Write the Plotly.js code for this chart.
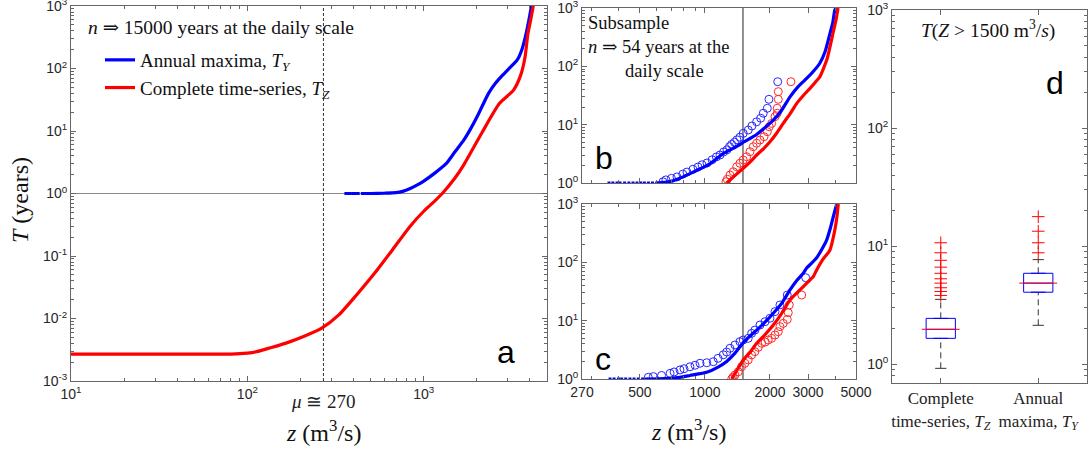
<!DOCTYPE html>
<html>
<head>
<meta charset="utf-8">
<script src="https://cdn.plot.ly/plotly-3.0.1.min.js"></script>
<style>html,body{margin:0;padding:0;background:#fff;}#chart{width:1089px;height:450px;}</style>
</head>
<body>
<div id="chart"></div>
<script>
// ---------- DATA ----------
// Panel a: n => 15000 years
const aBlueDotsZ = [362, 372, 384, 398, 410, 425];
const aBlueZ = [440, 500, 600, 695, 760, 838, 920, 1000, 1150, 1340, 1500, 1690, 1850, 2030, 2330, 2550, 2810, 3100, 3390, 3600, 3810, 3950, 4080];
const aBlueT = [1.0, 1.0, 1.01, 1.03, 1.08, 1.2, 1.37, 1.58, 2.1, 3.0, 4.6, 7.2, 11, 18, 40, 58, 79, 105, 137, 200, 366, 600, 1000];
const aRedZ = [10, 20, 40, 60, 81, 100, 113, 135, 164, 210, 264, 330, 416, 526, 664, 838, 1000, 1150, 1274, 1500, 1690, 2130, 2690, 3230, 3550, 3750, 3900, 4050, 4180];
const aRedT = [0.0027, 0.0027, 0.0027, 0.0027, 0.0027, 0.0028, 0.00295, 0.0034, 0.0040, 0.0052, 0.0070, 0.0114, 0.0238, 0.0528, 0.125, 0.30, 0.52, 0.75, 1.0, 1.75, 2.9, 9.2, 27.7, 45, 79, 150, 366, 620, 1000];
const MU = 270;

// Panel b: subsample n => 54 years
const bBlueDotsZ = [360, 375, 392, 405, 425, 445, 465, 485, 505, 525, 548, 572, 598];
const bBlueZ = [600, 680, 760, 853, 950, 1050, 1216, 1380, 1521, 1735, 1900, 2072, 2250, 2475, 2700, 2956, 3200, 3400, 3600, 3790, 3900, 3990, 4050];
const bBlueT = [1.0, 1.05, 1.2, 1.45, 1.75, 2.1, 3.2, 4.1, 5.1, 6.8, 9, 12, 17, 30, 45, 62, 85, 113, 180, 368, 550, 925, 1000];
const bRedZ = [1261, 1380, 1504, 1620, 1735, 1870, 2000, 2150, 2303, 2480, 2660, 2860, 3063, 3250, 3400, 3670, 3920, 4050, 4130];
const bRedT = [1.0, 1.35, 1.79, 2.3, 3.02, 3.9, 5.1, 7.2, 10.5, 15.5, 23.2, 32, 42, 54, 66, 132, 380, 650, 1000];
const bBlueObsZ = [2172, 1978, 1944, 1862, 1811, 1735, 1650, 1587, 1504, 1452, 1407, 1370, 1330, 1300, 1265, 1220, 1174, 1130, 1080, 1022, 970, 929, 880, 826, 790, 743, 700, 660, 640];
const bBlueObsT = [54.5, 27.2, 19.1, 15.7, 12.9, 11.2, 9.5, 8.1, 7.1, 6.1, 5.5, 5.0, 4.6, 4.2, 3.7, 3.4, 3.02, 2.8, 2.5, 2.2, 2.05, 1.88, 1.72, 1.54, 1.42, 1.27, 1.2, 1.13, 1.05];
const bRedObsZ = [2500, 2185, 2185, 2160, 2160, 2110, 2035, 1985, 1944, 1877, 1798, 1735, 1674, 1616, 1560, 1504, 1452, 1403, 1353, 1306, 1269, 1251];
const bRedObsT = [54.5, 36.8, 27.2, 19.1, 15.7, 13.7, 10.5, 9.2, 7.57, 6.22, 5.46, 4.8, 4.19, 3.44, 2.82, 2.48, 2.18, 1.9, 1.56, 1.37, 1.16, 1.05];

// Panel c: another subsample
const cBlueDotsZ = [364, 380, 398, 412, 430, 450, 470, 492, 515, 535];
const cBlueZ = [538, 650, 767, 853, 1019, 1150, 1261, 1380, 1504, 1620, 1735, 1900, 2072, 2270, 2475, 2650, 2852, 2956, 3100, 3289, 3450, 3657, 3800, 3926, 4070];
const cBlueT = [1.0, 1.02, 1.07, 1.15, 1.3, 1.6, 2.0, 2.8, 4.2, 5.5, 6.9, 9.5, 13.4, 20, 33.6, 48, 65, 80, 95, 120, 160, 241, 380, 604, 1000];
const cRedZ = [1330, 1420, 1504, 1620, 1735, 1900, 2072, 2270, 2475, 2752, 2960, 3170, 3289, 3500, 3790, 3990, 4080, 4140];
const cRedT = [1.0, 1.5, 2.12, 2.9, 4.09, 5.8, 8.4, 13.5, 22.6, 33.6, 44, 56.8, 74, 110, 163, 358, 600, 1000];
const cBlueObsZ = [2925, 2404, 2224, 2110, 2000, 1897, 1798, 1704, 1645, 1586, 1504, 1452, 1377, 1306, 1261, 1216, 1150, 1093, 1020, 949, 900, 853, 800, 767, 720, 690, 630, 577, 547];
const cBlueObsT = [54.6, 27.5, 18.6, 14.3, 11, 9.6, 8.43, 6.9, 6.07, 4.98, 4.66, 4.36, 3.83, 3.36, 2.9, 2.6, 2.26, 1.98, 1.9, 1.86, 1.72, 1.62, 1.5, 1.43, 1.32, 1.25, 1.15, 1.1, 1.07];
const cRedObsZ = [2804, 2456, 2430, 2404, 2303, 2224, 2185, 2110, 2035, 1962, 1900, 1831, 1766, 1704, 1645, 1586, 1531, 1478, 1427, 1377, 1350, 1330];
const cRedObsT = [27.5, 18.6, 13.7, 10.5, 9.0, 7.9, 6.47, 5.68, 4.98, 4.66, 4.3, 4.09, 3.49, 2.94, 2.58, 2.12, 1.86, 1.62, 1.33, 1.17, 1.08, 1.0];
const Z_THRESHOLD = 1500;

// Panel d: T(Z > 1500 m3/s)
const dCats = ['Complete<br>time-series, <i>T</i><sub><i>Z</i></sub>', 'Annual<br>maxima, <i>T</i><sub><i>Y</i></sub>'];
const dQ1 = [1.66, 4.08];
const dMed = [1.98, 4.87];
const dQ3 = [2.45, 5.9];
const dLo = [0.925, 2.14];
const dHi = [3.55, 7.7];
const dOutTZ = [3.83, 4.14, 4.45, 4.87, 5.3, 5.9, 6.65, 7.6, 8.8, 10.7];
const dOutTY = [8.8, 10.7, 13.4, 17.8];

// tick labels
const logTickText = {'-3':'10<sup>-3</sup>','-2':'10<sup>-2</sup>','-1':'10<sup>-1</sup>','0':'10<sup>0</sup>','1':'10<sup>1</sup>','2':'10<sup>2</sup>','3':'10<sup>3</sup>'};
const aYTicks = [0.001, 0.01, 0.1, 1, 10, 100, 1000];
const aXTicks = [10, 100, 1000];
const bcYTicks = [1, 10, 100, 1000];
const cXTicks = [270, 500, 1000, 2000, 3000, 5000];
const dYTicks = [1, 10, 100, 1000];

// ---------- LAYOUT HELPERS ----------
const W = 1089, H = 450;
const fx = p => p / W;
const fy = p => 1 - p / H;
const lbl = v => logTickText[String(Math.round(Math.log10(v)))];
const BLUE = 'rgb(0,0,255)', RED = 'rgb(255,0,0)';
const SERIF = 'Liberation Serif, DejaVu Serif, serif';
const SANS = 'Liberation Sans, Arial, sans-serif';
const AX = '#666';

function axisBase(extra) {
  return Object.assign({
    showline: true, linecolor: AX, linewidth: 1, mirror: 'ticks',
    ticks: 'inside', ticklen: 5, tickcolor: AX, tickwidth: 1,
    showgrid: false, zeroline: false, ticklabeloverflow: 'allow',
    tickfont: {family: SANS, size: 14, color: '#262626'}
  }, extra);
}
const logMinor = {ticks: 'inside', ticklen: 3, tickcolor: AX, dtick: 'D1', showgrid: false};

// ---------- TRACES ----------
const traces = [];
// Panel a
traces.push({x: [10, 5000], y: [1, 1], mode: 'lines', line: {color: '#888', width: 1}, xaxis: 'x', yaxis: 'y', showlegend: false, hoverinfo: 'skip'});
traces.push({x: [MU, MU], y: [0.001, 1000], mode: 'lines', line: {color: '#333', width: 1, dash: '3px,2px'}, xaxis: 'x', yaxis: 'y', showlegend: false, hoverinfo: 'skip'});
traces.push({x: aBlueDotsZ, y: aBlueDotsZ.map(() => 1), mode: 'markers', marker: {symbol: 'square', size: 3, color: BLUE}, xaxis: 'x', yaxis: 'y', showlegend: false});
traces.push({x: aBlueZ, y: aBlueT, mode: 'lines', line: {color: BLUE, width: 3.2, shape: 'spline', smoothing: 0.6}, name: 'Annual maxima, <i>T</i><sub><i>Y</i></sub>', xaxis: 'x', yaxis: 'y'});
traces.push({x: aRedZ, y: aRedT, mode: 'lines', line: {color: RED, width: 3.2, shape: 'spline', smoothing: 0.6}, name: 'Complete time-series, <i>T</i><sub><i>Z</i></sub>', xaxis: 'x', yaxis: 'y'});

function subPanel(xa, ya, dots, bz, bt, rz, rt, boz, bot, roz, rot) {
  traces.push({x: [Z_THRESHOLD, Z_THRESHOLD], y: [1, 1000], mode: 'lines', line: {color: '#222', width: 1}, xaxis: xa, yaxis: ya, showlegend: false, hoverinfo: 'skip'});
  traces.push({x: boz, y: bot, mode: 'markers', marker: {symbol: 'circle-open', size: 8, color: 'rgb(40,40,255)', line: {width: 1}}, xaxis: xa, yaxis: ya, showlegend: false});
  traces.push({x: roz, y: rot, mode: 'markers', marker: {symbol: 'circle-open', size: 8, color: 'rgb(255,40,40)', line: {width: 1}}, xaxis: xa, yaxis: ya, showlegend: false});
  traces.push({x: dots, y: dots.map(() => 1), mode: 'markers', marker: {symbol: 'square', size: 3, color: BLUE}, xaxis: xa, yaxis: ya, showlegend: false});
  traces.push({x: bz, y: bt, mode: 'lines', line: {color: BLUE, width: 3.2, shape: 'spline', smoothing: 0.5}, xaxis: xa, yaxis: ya, showlegend: false});
  traces.push({x: rz, y: rt, mode: 'lines', line: {color: RED, width: 3.2, shape: 'spline', smoothing: 0.5}, xaxis: xa, yaxis: ya, showlegend: false});
}
subPanel('x2', 'y2', bBlueDotsZ, bBlueZ, bBlueT, bRedZ, bRedT, bBlueObsZ, bBlueObsT, bRedObsZ, bRedObsT);
subPanel('x3', 'y3', cBlueDotsZ, cBlueZ, cBlueT, cRedZ, cRedT, cBlueObsZ, cBlueObsT, cRedObsZ, cRedObsT);

// Panel d
traces.push({type: 'box', orientation: 'v', x: dCats, q1: dQ1, median: dMed, q3: dQ3, lowerfence: dQ1, upperfence: dQ3,
  width: 0.3, line: {color: BLUE, width: 1}, fillcolor: 'rgba(0,0,0,0)', boxpoints: false, xaxis: 'x4', yaxis: 'y4', showlegend: false, hoverinfo: 'skip'});
const wx = [], wy = [];
dCats.forEach((c, i) => { wx.push(c, c, null, c, c, null); wy.push(dLo[i], dQ1[i], null, dQ3[i], dHi[i], null); });
traces.push({x: wx, y: wy, mode: 'lines', line: {color: '#333', width: 1, dash: '6px,4px'}, xaxis: 'x4', yaxis: 'y4', showlegend: false, hoverinfo: 'skip'});
traces.push({x: dCats.concat(dCats), y: dLo.concat(dHi), mode: 'markers', marker: {symbol: 'line-ew', size: 8, color: '#333', line: {color: '#333', width: 1}}, xaxis: 'x4', yaxis: 'y4', showlegend: false});
traces.push({x: dCats, y: dMed, mode: 'markers', marker: {symbol: 'line-ew', size: 27, color: RED, line: {color: RED, width: 1}}, xaxis: 'x4', yaxis: 'y4', showlegend: false});
traces.push({x: dOutTZ.map(() => dCats[0]).concat(dOutTY.map(() => dCats[1])), y: dOutTZ.concat(dOutTY), mode: 'markers',
  marker: {symbol: 'cross-thin-open', size: 9, color: RED, line: {color: RED, width: 1}}, xaxis: 'x4', yaxis: 'y4', showlegend: false});

// ---------- LAYOUT ----------
const ann = (text, px, py, font, extra) => Object.assign({text: text, xref: 'paper', yref: 'paper', x: fx(px), y: fy(py),
  xanchor: 'center', yanchor: 'middle', showarrow: false, font: font}, extra || {});
const layout = {
  width: W, height: H, margin: {l: 0, r: 0, t: 0, b: 0},
  paper_bgcolor: '#fff', plot_bgcolor: '#fff',
  showlegend: true,
  legend: {x: fx(100), y: fy(41), xanchor: 'left', yanchor: 'top', bgcolor: 'rgba(0,0,0,0)',
    font: {family: SERIF, size: 19, color: '#111'}, itemwidth: 30, tracegroupgap: 0},
  xaxis: axisBase({domain: [fx(71), fx(547)], anchor: 'y', type: 'log', range: [1, Math.log10(5000)],
    tickmode: 'array', tickvals: aXTicks, ticktext: aXTicks.map(lbl), minor: logMinor}),
  yaxis: axisBase({domain: [fy(381), fy(6)], anchor: 'x', type: 'log', range: [-3, 3],
    tickmode: 'array', tickvals: aYTicks, ticktext: aYTicks.map(lbl), minor: logMinor}),
  xaxis2: axisBase({domain: [fx(582), fx(856)], anchor: 'y2', type: 'log', range: [Math.log10(270), Math.log10(5000)],
    tickmode: 'array', tickvals: cXTicks, showticklabels: false, minor: logMinor}),
  yaxis2: axisBase({domain: [fy(183), fy(8)], anchor: 'x2', type: 'log', range: [0, 3],
    tickmode: 'array', tickvals: bcYTicks, ticktext: bcYTicks.map(lbl), minor: logMinor}),
  xaxis3: axisBase({domain: [fx(582), fx(856)], anchor: 'y3', type: 'log', range: [Math.log10(270), Math.log10(5000)],
    tickmode: 'array', tickvals: cXTicks, ticktext: cXTicks.map(String), minor: logMinor}),
  yaxis3: axisBase({domain: [fy(379), fy(204)], anchor: 'x3', type: 'log', range: [0, 3],
    tickmode: 'array', tickvals: bcYTicks, ticktext: bcYTicks.map(lbl), minor: logMinor}),
  xaxis4: axisBase({domain: [fx(892), fx(1087)], anchor: 'y4', type: 'category', range: [-0.5, 1.5],
    categoryorder: 'array', categoryarray: dCats, tickfont: {family: SERIF, size: 17, color: '#222'}}),
  yaxis4: axisBase({domain: [fy(383), fy(10)], anchor: 'x4', type: 'log', range: [-0.158, 3],
    tickmode: 'array', tickvals: dYTicks, ticktext: dYTicks.map(lbl), minor: logMinor}),
  annotations: [
    ann('<i>n</i> ⇒ 15000 years at the daily scale', 86, 27, {family: SERIF, size: 19.5, color: '#111'}, {xanchor: 'left'}),
    ann('<i>T</i> (years)', 20, 200, {family: SERIF, size: 24, color: '#111'}, {textangle: -90}),
    ann('<i>z</i> (m<sup>3</sup>/s)', 323, 431, {family: SERIF, size: 24, color: '#111'}),
    ann('<i>z</i> (m<sup>3</sup>/s)', 688, 430, {family: SERIF, size: 24, color: '#111'}),
    {text: '<i>μ</i> ≅ 270', xref: 'x', yref: 'paper', x: Math.log10(MU), y: fy(401), xanchor: 'center', yanchor: 'middle', showarrow: false, font: {family: SERIF, size: 19, color: '#222'}},
    ann('Subsample<br><i>n</i> ⇒ 54 years at the<br>        daily scale', 586, 11, {family: SERIF, size: 18.5, color: '#111'}, {xanchor: 'left', yanchor: 'top', align: 'left'}),
    ann('<i>T</i>(<i>Z</i> > 1500 m<sup>3</sup>/<i>s</i>)', 988, 30, {family: SERIF, size: 19.5, color: '#111'}),
    ann('a', 506, 352, {family: SANS, size: 32, color: '#000'}),
    ann('b', 604, 158, {family: SANS, size: 32, color: '#000'}),
    ann('c', 603, 359, {family: SANS, size: 32, color: '#000'}),
    ann('d', 1055, 83, {family: SANS, size: 32, color: '#000'})
  ]
};

Plotly.newPlot('chart', traces, layout, {staticPlot: true, displayModeBar: false});
</script>
</body>
</html>
